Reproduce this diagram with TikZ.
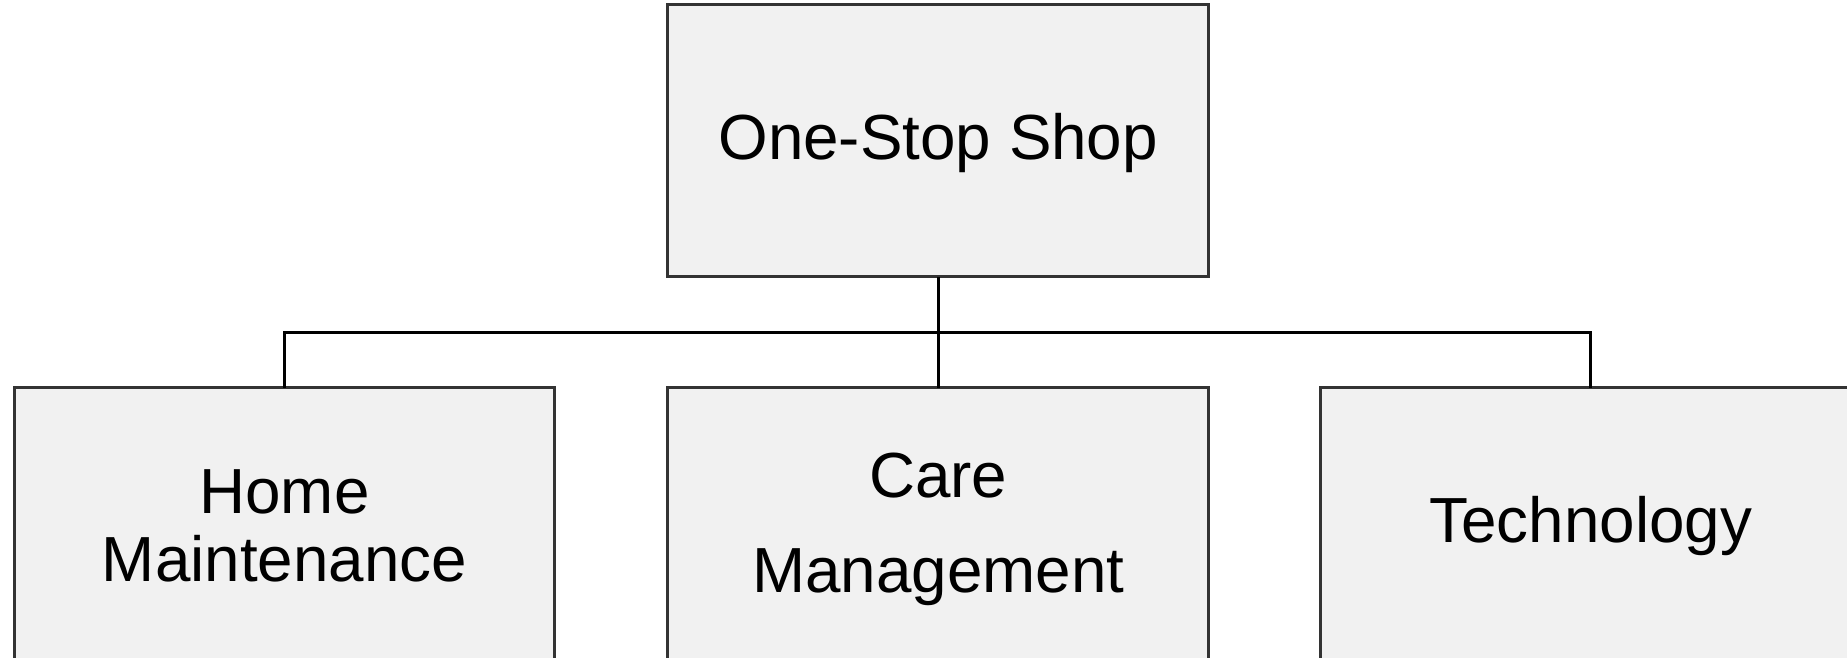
\documentclass[tikz,border=0pt]{standalone}
\usepackage{fontspec}
\setmainfont{Liberation Sans}
\definecolor{boxgray}{RGB}{241,241,241}
\definecolor{edgegray}{RGB}{51,51,51}
\usepackage{tikz}
\usetikzlibrary{positioning, calc}

\begin{document}
\begin{tikzpicture}[
  box/.style={draw=edgegray, fill=boxgray, line width=0.7pt, minimum width=4.59cm, minimum height=2.31cm, inner sep=0pt, outer sep=0pt, align=center, font=\fontsize{15.4}{16.5}\selectfont},
  lbl/.style={align=center, font=\fontsize{15.4}{16.5}\selectfont},
  conn/.style={black, line width=0.7pt}
]
  \useasboundingbox (0,0) rectangle (15.68,5.58);
  \node[box] (shop) at (7.965,4.385) {};
  \node[box, below=0.94cm of shop] (care) {};
  \node[box, left=0.96cm of care] (home) {};
  \node[box, right=0.95cm of care] (tech) {};

  % labels, a little below the box centres
  \node[lbl] (shoptxt) at ([yshift=-0.02cm]shop.center) {One-Stop Shop};
  \node[lbl, font=\fontsize{15.4}{23}\selectfont] (caretxt) at ([yshift=-0.05cm]care.center) {Care\\Management};
  \node[lbl] (hometxt) at ([yshift=-0.02cm]home.center) {Home\\Maintenance};
  \node[lbl] (techtxt) at ([yshift=-0.02cm]tech.center) {Technology};

  \coordinate (bus) at ($(shop.south)!0.5!(care.north)$);
  \draw[conn] (shop.south) -- (care.north);
  \draw[conn] (home.north) |- (bus) -| (tech.north);
\end{tikzpicture}
\end{document}
